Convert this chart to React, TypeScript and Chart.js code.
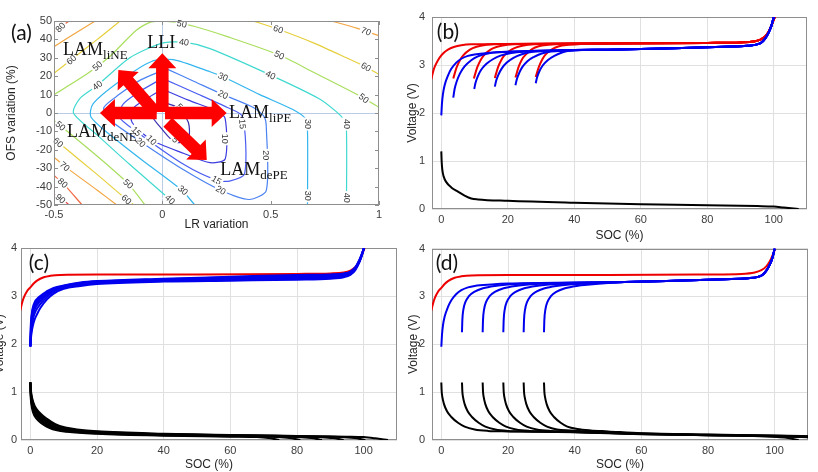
import React, { useEffect, useRef } from "react";
import { Chart, registerables } from "chart.js";

Chart.register(...registerables);

type P = [number, number];

// ================= Panel (a): contour map =================
const lrTicks = [-0.5, 0, 0.5, 1];
const ofsTicks = [-50, -40, -30, -20, -10, 0, 10, 20, 30, 40, 50];
const crossLR = [0];
const crossOFS = [0];
const contourLevels = [5, 10, 15, 20, 30, 40, 50, 60, 70, 80, 90];
const contourColors = ["#3a2fb0", "#3c3ce0", "#4a5cf2", "#4a82f2", "#33b5ee", "#3fd9cf", "#a9de5e", "#e6cf3c", "#f2a540", "#f06a45", "#e0363a"];

const lvl5: P[] = [[0, 6], [0.07, 3], [0.12, -5], [0.12, -14], [0.06, -16], [0.0, -9], [-0.05, -1], [-0.03, 4], [0, 6]];
const lvl10: P[] = [[0, 13], [0.12, 7], [0.25, 1], [0.29, -3], [0.29, -25], [0.22, -27], [0.1, -22], [-0.05, -14.7], [-0.14, -5], [-0.14, 2], [-0.07, 8], [0, 13]];
const lvl15: P[] = [[0, 18.8], [0.15, 11], [0.3, 3], [0.37, -2], [0.38, -33], [0.31, -37], [0.25, -36.5], [0.1, -28], [-0.12, -10], [-0.2, -2], [-0.18, 5], [-0.1, 12], [0, 18.8]];
const lvl20: P[] = [[0.02, 24], [0.15, 17], [0.28, 10], [0.42, 3], [0.47, -2], [0.48, -8], [0.48, -42], [0.4, -47], [0.27, -42], [0.1, -31], [-0.1, -15.6], [-0.25, -3], [-0.27, 3], [-0.2, 10], [-0.1, 18], [0.02, 24]];
const lvl30: P[] = [[0.15, -50], [0.09, -42], [-0.1, -25], [-0.25, -11], [-0.33, -2], [-0.32, 5], [-0.2, 17], [-0.05, 28], [0.05, 29], [0.22, 22.4], [0.28, 19.7], [0.45, 10], [0.6, 2], [0.66, -3], [0.67, -10], [0.67, -50]];
const lvl40: P[] = [[0.06, -50], [0.035, -47], [-0.15, -28], [-0.3, -12], [-0.41, 0], [-0.38, 8], [-0.3, 15], [-0.15, 30], [0, 38], [0.1, 38.5], [0.22, 35], [0.5, 20.6], [0.72, 8], [0.8, 1], [0.84, -4], [0.85, -10], [0.85, -50]];
const lvl50a: P[] = [[-0.5, -4], [-0.3, -23.5], [-0.157, -38.5], [-0.08, -50]];
const lvl50b: P[] = [[-0.5, 10], [-0.35, 21], [-0.24, 31], [-0.12, 45], [-0.05, 49.5], [0.05, 49.5], [0.15, 47], [0.3, 41.5], [0.54, 31.5], [0.7, 22], [0.85, 13], [0.93, 8], [1.0, 3]];
const lvl60a: P[] = [[-0.5, -14], [-0.3, -33.5], [-0.165, -47], [-0.13, -50]];
const lvl60b: P[] = [[-0.5, 21.6], [-0.42, 29], [-0.3, 40], [-0.195, 50]];
const lvl60c: P[] = [[0.42, 50], [0.535, 45.5], [0.7, 38], [0.85, 30], [0.94, 25], [1.0, 21]];
const lvl70a: P[] = [[-0.5, -24], [-0.45, -29], [-0.3, -42], [-0.21, -50]];
const lvl70b: P[] = [[-0.5, 36], [-0.4, 43.5], [-0.31, 50]];
const lvl70c: P[] = [[0.78, 50], [0.9, 46], [1.0, 42]];
const lvl80a: P[] = [[-0.5, -34], [-0.46, -38], [-0.37, -50]];
const lvl80b: P[] = [[-0.5, 44], [-0.46, 47.5], [-0.43, 50]];
const lvl90a: P[] = [[-0.5, -44], [-0.47, -46], [-0.43, -50]];

const contourSegments: { level: number; pts: P[] }[] = [
  { level: 5, pts: lvl5 }, { level: 10, pts: lvl10 }, { level: 15, pts: lvl15 }, { level: 20, pts: lvl20 },
  { level: 30, pts: lvl30 }, { level: 40, pts: lvl40 }, { level: 50, pts: lvl50a }, { level: 50, pts: lvl50b },
  { level: 60, pts: lvl60a }, { level: 60, pts: lvl60b }, { level: 60, pts: lvl60c },
  { level: 70, pts: lvl70a }, { level: 70, pts: lvl70b }, { level: 70, pts: lvl70c },
  { level: 80, pts: lvl80a }, { level: 80, pts: lvl80b }, { level: 90, pts: lvl90a },
];

const contourLabels: { t: string; x: number; y: number; a: number }[] = [
  { t: "80", x: -0.47, y: 46.5, a: -45 }, { t: "60", x: -0.42, y: 29, a: -40 }, { t: "50", x: -0.3, y: 25.5, a: -40 },
  { t: "40", x: -0.3, y: 15, a: -38 }, { t: "50", x: 0.09, y: 48.5, a: 12 }, { t: "40", x: 0.1, y: 38.5, a: 8 },
  { t: "60", x: 0.535, y: 45.5, a: 20 }, { t: "70", x: 0.94, y: 44.4, a: 22 }, { t: "50", x: 0.54, y: 31.5, a: 26 },
  { t: "40", x: 0.5, y: 20.6, a: 26 }, { t: "30", x: 0.28, y: 19.7, a: 24 }, { t: "20", x: 0.28, y: 10, a: 26 },
  { t: "60", x: 0.94, y: 25, a: 30 }, { t: "50", x: 0.93, y: 8, a: 38 }, { t: "30", x: 0.67, y: -6, a: 90 },
  { t: "40", x: 0.85, y: -6, a: 90 }, { t: "30", x: 0.67, y: -45, a: 90 }, { t: "40", x: 0.85, y: -46, a: 90 },
  { t: "20", x: 0.48, y: -23, a: 90 }, { t: "15", x: 0.37, y: -6, a: 85 }, { t: "10", x: 0.29, y: -14, a: 90 },
  { t: "15", x: 0.25, y: -36.5, a: 30 }, { t: "20", x: 0.27, y: -42, a: 30 }, { t: "30", x: 0.095, y: -42, a: 40 },
  { t: "40", x: 0.035, y: -47, a: 42 }, { t: "50", x: -0.157, y: -38.5, a: 42 }, { t: "60", x: -0.165, y: -47, a: 42 },
  { t: "50", x: -0.47, y: -7, a: 42 }, { t: "60", x: -0.48, y: -16, a: 42 }, { t: "70", x: -0.45, y: -29, a: 42 },
  { t: "80", x: -0.46, y: -38, a: 42 }, { t: "90", x: -0.47, y: -46.5, a: 42 }, { t: "15", x: -0.12, y: -10, a: 45 },
  { t: "20", x: -0.1, y: -16, a: 45 }, { t: "10", x: -0.05, y: -14.7, a: 45 }, { t: "5", x: 0.06, y: -14.5, a: 45 },
  { t: "5", x: 0.08, y: 3.4, a: 45 },
];

const arrowFrom: P[] = [[0, 0.5], [-0.03, 0], [-0.026, 0], [0.0125, 0], [0.025, -5]];
const arrowTo: P[] = [[0, 32.5], [-0.203, 23.4], [-0.288, 0], [0.297, 0], [0.205, -25.5]];

const annoMain = ["LAM", "LLI", "LAM", "LAM", "LAM"];
const annoSub = ["liNE", "", "liPE", "deNE", "dePE"];
const annoPos: P[] = [[-0.458, 31.5], [-0.07, 35.3], [0.308, -2.7], [-0.44, -13.3], [0.267, -33.7]];

// ================= Panels (b)-(d): voltage vs SOC =================
const socTicks = [0, 20, 40, 60, 80, 100];
const voltTicks = [0, 1, 2, 3, 4];

// ---- (b)
const bRedTail: P[] = [[50, 3.45], [80, 3.46], [90, 3.47], [94, 3.49], [96, 3.53], [97.5, 3.6], [98.5, 3.7], [99.3, 3.82], [100, 3.95], [100.3, 4.0]];
const bRed1: P[] = [[-3, 2.7], [-2.5, 2.85], [-2, 2.96], [-1, 3.1], [0, 3.2], [1, 3.27], [2, 3.32], [4, 3.38], [6, 3.41], [9, 3.43], [20, 3.44]];
const bRed2: P[] = [[3.6, 2.72], [4.6, 2.95], [5.6, 3.1], [6.6, 3.2], [8.6, 3.32], [10.6, 3.38], [13.6, 3.42], [18, 3.44]];
const bRed3: P[] = [[9.8, 2.72], [10.8, 2.95], [11.8, 3.1], [12.8, 3.2], [14.8, 3.32], [16.8, 3.38], [19.8, 3.42], [24, 3.44]];
const bRed4: P[] = [[16.1, 2.73], [17.1, 2.96], [18.1, 3.11], [19.1, 3.21], [21.1, 3.32], [23.1, 3.38], [26.1, 3.42], [30, 3.44]];
const bRed5: P[] = [[22.3, 2.74], [23.3, 2.97], [24.3, 3.12], [25.3, 3.21], [27.3, 3.33], [29.3, 3.39], [32.3, 3.42], [36, 3.44]];
const bRed6: P[] = [[28.4, 2.75], [29.4, 2.97], [30.4, 3.12], [31.4, 3.22], [33.4, 3.33], [35.4, 3.39], [38.4, 3.42], [42, 3.44]];
const bBlueTail: P[] = [[50, 3.32], [70, 3.35], [85, 3.38], [92, 3.4], [95, 3.43], [96.5, 3.48], [97.5, 3.56], [98.5, 3.68], [99.3, 3.82], [100, 4.0]];
const bBlue1: P[] = [[0, 1.95], [0.2, 2.2], [0.5, 2.4], [1, 2.58], [2, 2.78], [3, 2.92], [4.5, 3.05], [6, 3.13], [8, 3.19], [10, 3.22], [14, 3.25], [25, 3.28], [40, 3.31]];
const bBlue2: P[] = [[3.6, 2.32], [4, 2.5], [4.6, 2.65], [5.6, 2.82], [7, 2.97], [9, 3.1], [11, 3.18], [14, 3.24], [18, 3.27], [40, 3.31]];
const bBlue3: P[] = [[9.9, 2.5], [10.3, 2.63], [11, 2.77], [12, 2.9], [13.5, 3.02], [15.5, 3.12], [18, 3.2], [21, 3.25], [25, 3.28], [40, 3.31]];
const bBlue4: P[] = [[16.1, 2.55], [16.5, 2.67], [17.2, 2.8], [18.2, 2.93], [19.7, 3.05], [21.7, 3.15], [24, 3.22], [27, 3.27], [31, 3.29], [40, 3.31]];
const bBlue5: P[] = [[22.3, 2.58], [22.7, 2.7], [23.4, 2.83], [24.4, 2.96], [25.9, 3.08], [27.9, 3.17], [30.2, 3.24], [33, 3.28], [37, 3.3], [42, 3.31]];
const bBlue6: P[] = [[28.4, 2.62], [28.8, 2.74], [29.5, 2.87], [30.5, 2.99], [32, 3.1], [34, 3.19], [36.3, 3.26], [39, 3.3], [44, 3.315]];
const bBlack: P[] = [[0, 1.2], [0.1, 1.0], [0.3, 0.82], [0.7, 0.68], [1.5, 0.56], [3, 0.45], [5, 0.36], [7, 0.28], [9, 0.22], [11, 0.2], [20, 0.17], [40, 0.13], [60, 0.1], [80, 0.08], [95, 0.06], [100, 0.05], [103, 0.03], [107.5, 0.0]];

// ---- (c)
const cRed: P[] = [[-3, 2.7], [-2.5, 2.85], [-2, 2.96], [-1, 3.1], [0, 3.18], [1, 3.26], [2, 3.32], [4, 3.39], [6, 3.42], [9, 3.44], [20, 3.45], [50, 3.45], [80, 3.46], [90, 3.47], [94, 3.49], [96, 3.53], [97.5, 3.6], [98.5, 3.7], [99.3, 3.82], [100, 3.95], [100.3, 4.0]];
const cBlue1: P[] = [[0, 1.95], [0.3, 2.2], [1, 2.45], [2, 2.62], [3, 2.75], [5, 2.93], [7, 3.05], [10, 3.15], [15, 3.21], [20, 3.25], [40, 3.3], [60, 3.32], [80, 3.34], [90, 3.36], [94, 3.39], [96, 3.44], [97.5, 3.54], [98.7, 3.7], [99.5, 3.85], [100.1, 4.0]];
const cBlue2: P[] = [[0, 1.95], [0.25, 2.25], [0.8, 2.52], [1.7, 2.7], [3, 2.83], [5, 2.98], [7, 3.09], [10, 3.17], [15, 3.23], [20, 3.27], [40, 3.31], [60, 3.34], [80, 3.36], [90, 3.38], [94, 3.41], [96, 3.46], [97.5, 3.56], [98.7, 3.71], [99.5, 3.86], [100.1, 4.0]];
const cBlue3: P[] = [[0, 1.95], [0.2, 2.28], [0.7, 2.57], [1.5, 2.75], [3, 2.89], [5, 3.02], [7, 3.11], [10, 3.18], [15, 3.24], [20, 3.28], [40, 3.33], [60, 3.36], [80, 3.38], [90, 3.4], [94, 3.43], [96, 3.47], [97.5, 3.57], [98.7, 3.72], [99.5, 3.87], [100.1, 4.0]];
const cBlue4: P[] = [[0, 1.95], [0.2, 2.3], [0.6, 2.6], [1.3, 2.78], [3, 2.94], [5, 3.05], [7, 3.13], [10, 3.2], [15, 3.26], [20, 3.29], [40, 3.34], [60, 3.37], [80, 3.4], [90, 3.42], [94, 3.45], [96, 3.49], [97.5, 3.58], [98.7, 3.73], [99.5, 3.87], [100.1, 4.0]];
const cBlue5: P[] = [[0, 1.95], [0.15, 2.32], [0.5, 2.62], [1.1, 2.8], [3, 2.97], [5, 3.08], [7, 3.15], [10, 3.21], [15, 3.27], [20, 3.3], [40, 3.35], [60, 3.39], [80, 3.42], [90, 3.44], [94, 3.46], [96, 3.5], [97.5, 3.59], [98.7, 3.74], [99.5, 3.88], [100.1, 4.0]];
const cBlue6: P[] = [[0, 1.95], [0.12, 2.35], [0.45, 2.64], [1, 2.82], [3, 3.0], [5, 3.1], [7, 3.17], [10, 3.22], [15, 3.28], [20, 3.31], [40, 3.36], [60, 3.4], [80, 3.44], [90, 3.45], [94, 3.47], [96, 3.51], [97.5, 3.6], [98.7, 3.75], [99.5, 3.89], [100.1, 4.0]];
const cBlack1: P[] = [[0, 1.2], [0.08, 0.95], [0.3, 0.75], [0.8, 0.58], [1.8, 0.45], [3.5, 0.34], [5.5, 0.26], [8, 0.2], [11, 0.17], [20, 0.13], [40, 0.09], [60, 0.07], [68, 0.06], [71.5, 0.04], [74.7, 0.0]];
const cBlack2: P[] = [[0, 1.2], [0.1, 0.97], [0.35, 0.78], [0.9, 0.61], [2, 0.48], [3.8, 0.36], [6, 0.27], [8.5, 0.21], [11.5, 0.18], [20, 0.14], [40, 0.1], [60, 0.08], [74, 0.06], [77.8, 0.04], [81, 0.0]];
const cBlack3: P[] = [[0, 1.2], [0.12, 0.98], [0.4, 0.8], [1, 0.64], [2.2, 0.5], [4, 0.38], [6.3, 0.29], [9, 0.22], [12, 0.19], [20, 0.15], [40, 0.11], [60, 0.09], [80, 0.065], [84.3, 0.04], [87.5, 0.0]];
const cBlack4: P[] = [[0, 1.2], [0.14, 1.0], [0.45, 0.82], [1.1, 0.66], [2.4, 0.53], [4.3, 0.4], [6.6, 0.3], [9.5, 0.23], [12.5, 0.2], [20, 0.16], [40, 0.12], [60, 0.095], [80, 0.075], [87, 0.06], [90.8, 0.04], [94, 0.0]];
const cBlack5: P[] = [[0, 1.2], [0.16, 1.0], [0.5, 0.84], [1.2, 0.68], [2.6, 0.55], [4.6, 0.42], [7, 0.32], [10, 0.25], [13, 0.21], [20, 0.17], [40, 0.125], [60, 0.1], [80, 0.08], [93, 0.065], [97.3, 0.04], [100.5, 0.0]];
const cBlack6: P[] = [[0, 1.2], [0.2, 1.02], [0.6, 0.86], [1.3, 0.71], [2.8, 0.57], [5, 0.44], [7.5, 0.33], [10.5, 0.26], [14, 0.22], [20, 0.18], [40, 0.13], [60, 0.105], [80, 0.085], [95, 0.07], [100, 0.06], [103.5, 0.035], [107.3, 0.0]];

// ---- (d)
const dRed: P[] = [[-3, 2.7], [-2.5, 2.85], [-2, 2.96], [-1, 3.1], [0, 3.18], [1, 3.26], [2, 3.32], [4, 3.39], [6, 3.42], [9, 3.44], [20, 3.45], [50, 3.45], [80, 3.46], [90, 3.47], [94, 3.5], [96, 3.55], [97.5, 3.63], [98.5, 3.73], [99.3, 3.85], [100.2, 4.0]];
const dBlueTail: P[] = [[55, 3.3], [70, 3.33], [85, 3.36], [92, 3.38], [95, 3.41], [96.5, 3.46], [97.5, 3.54], [98.5, 3.66], [99.3, 3.8], [100, 4.0]];
const dBlue1: P[] = [[0, 1.95], [0.2, 2.2], [0.5, 2.4], [1, 2.58], [2, 2.78], [3, 2.92], [4.5, 3.05], [6, 3.13], [8, 3.19], [10, 3.22], [15, 3.25], [20, 3.27], [40, 3.29]];
const dBlue2: P[] = [[6.2, 2.25], [6.3, 2.5], [6.6, 2.72], [7.2, 2.88], [8.2, 3.0], [10, 3.1], [12.5, 3.17], [16, 3.22], [20, 3.25], [26, 3.27], [42, 3.29]];
const dBlue3: P[] = [[12.4, 2.25], [12.5, 2.5], [12.8, 2.72], [13.4, 2.88], [14.4, 3.0], [16.2, 3.1], [18.7, 3.17], [22.2, 3.22], [26.2, 3.25], [32, 3.27], [44, 3.29]];
const dBlue4: P[] = [[18.6, 2.25], [18.7, 2.5], [19, 2.72], [19.6, 2.88], [20.6, 3.0], [22.4, 3.1], [24.9, 3.17], [28.4, 3.22], [32.4, 3.25], [38, 3.27], [46, 3.29]];
const dBlue5: P[] = [[24.7, 2.25], [24.8, 2.5], [25.1, 2.72], [25.7, 2.88], [26.7, 3.0], [28.5, 3.1], [31, 3.17], [34.5, 3.22], [38.5, 3.25], [44, 3.27], [50, 3.29]];
const dBlue6: P[] = [[30.8, 2.25], [30.9, 2.5], [31.2, 2.72], [31.8, 2.88], [32.8, 3.0], [34.6, 3.1], [37.1, 3.17], [40.6, 3.22], [44.6, 3.25], [50, 3.28]];
const dBlack1: P[] = [[0, 1.2], [0.1, 1.02], [0.3, 0.9], [0.8, 0.75], [1.7, 0.6], [3, 0.48], [5, 0.36], [7, 0.28], [10, 0.22], [14, 0.19], [20, 0.18], [40, 0.16], [60, 0.12], [80, 0.1], [100, 0.07], [103, 0.05], [107.2, 0.0]];
const dBlack2: P[] = [[6.2, 1.2], [6.3, 1.02], [6.5, 0.9], [7, 0.75], [7.9, 0.6], [9.2, 0.48], [11.2, 0.36], [13.2, 0.28], [16.2, 0.22], [20, 0.19], [26, 0.18], [40, 0.165], [60, 0.125], [80, 0.1], [100, 0.075], [112, 0.055]];
const dBlack3: P[] = [[12.4, 1.2], [12.5, 1.02], [12.7, 0.9], [13.2, 0.75], [14.1, 0.6], [15.4, 0.48], [17.4, 0.36], [19.4, 0.28], [22.4, 0.22], [26.4, 0.19], [32, 0.18], [45, 0.155], [60, 0.125], [80, 0.1], [100, 0.08], [112, 0.06]];
const dBlack4: P[] = [[18.6, 1.2], [18.7, 1.02], [18.9, 0.9], [19.4, 0.75], [20.3, 0.6], [21.6, 0.48], [23.6, 0.36], [25.6, 0.28], [28.6, 0.22], [32.6, 0.19], [38, 0.18], [50, 0.15], [60, 0.13], [80, 0.105], [100, 0.085], [112, 0.065]];
const dBlack5: P[] = [[24.7, 1.2], [24.8, 1.02], [25, 0.9], [25.5, 0.75], [26.4, 0.6], [27.7, 0.48], [29.7, 0.36], [31.7, 0.28], [34.7, 0.22], [38.7, 0.2], [44, 0.18], [60, 0.135], [80, 0.11], [100, 0.09], [112, 0.07]];
const dBlack6: P[] = [[30.8, 1.2], [30.9, 1.02], [31.1, 0.9], [31.6, 0.75], [32.5, 0.6], [33.8, 0.48], [35.8, 0.36], [37.8, 0.28], [40.8, 0.23], [44.8, 0.2], [50, 0.18], [60, 0.14], [80, 0.115], [100, 0.095], [112, 0.075]];

// ================= styling =================
const FONT = "'Liberation Sans', Arial, Helvetica, sans-serif";
const tickFont = { family: FONT, size: 11 };
const titleFont = { family: FONT, size: 12 };
const tickColor = "#3c3c3c";
const titleColor = "#262626";
const boxColor = "#8e8e8e";
const gridColor = "#e0e0e0";
const RED = "#ee0000";
const BLUE = "#0000ee";
const BLACK = "#000000";

const toXY = (pts: P[]) => pts.map(([x, y]) => ({ x, y }));

function drawBox(chart: any) {
  const { ctx, chartArea: a } = chart;
  ctx.save();
  ctx.strokeStyle = boxColor;
  ctx.lineWidth = 1;
  ctx.strokeRect(Math.round(a.left) + 0.5, Math.round(a.top) + 0.5, Math.round(a.right - a.left) - 1, Math.round(a.bottom - a.top) - 1);
  ctx.restore();
}

function drawLetter(chart: any, letter: string, cx: number, cy: number) {
  const { ctx } = chart;
  ctx.save();
  ctx.font = "21px Lato, 'Open Sans', sans-serif";
  ctx.fillStyle = "#111";
  ctx.textAlign = "center";
  ctx.textBaseline = "middle";
  ctx.fillText(letter, cx, cy);
  ctx.restore();
}

function drawArrow(ctx: CanvasRenderingContext2D, x1: number, y1: number, x2: number, y2: number) {
  const shaft = 12.5, headW = 28, headL = 15;
  const ang = Math.atan2(y2 - y1, x2 - x1);
  const len = Math.hypot(x2 - x1, y2 - y1);
  ctx.save();
  ctx.translate(x1, y1);
  ctx.rotate(ang);
  ctx.beginPath();
  ctx.moveTo(0, -shaft / 2);
  ctx.lineTo(len - headL, -shaft / 2);
  ctx.lineTo(len - headL, -headW / 2);
  ctx.lineTo(len, 0);
  ctx.lineTo(len - headL, headW / 2);
  ctx.lineTo(len - headL, shaft / 2);
  ctx.lineTo(0, shaft / 2);
  ctx.closePath();
  ctx.fill();
  ctx.restore();
}

const panelAPlugin = {
  id: "panelA",
  beforeDatasetsDraw(chart: any) {
    const { ctx, chartArea: a, scales } = chart;
    ctx.save();
    ctx.strokeStyle = "#b9cbe6";
    ctx.lineWidth = 1;
    crossLR.forEach((v) => {
      const px = Math.round(scales.x.getPixelForValue(v)) + 0.5;
      ctx.beginPath(); ctx.moveTo(px, a.top); ctx.lineTo(px, a.bottom); ctx.stroke();
    });
    crossOFS.forEach((v) => {
      const py = Math.round(scales.y.getPixelForValue(v)) + 0.5;
      ctx.beginPath(); ctx.moveTo(a.left, py); ctx.lineTo(a.right, py); ctx.stroke();
    });
    ctx.restore();
  },
  afterDatasetsDraw(chart: any) {
    const { ctx, chartArea: a, scales } = chart;
    const sx = scales.x, sy = scales.y;
    // contour labels
    ctx.save();
    ctx.font = `9px ${FONT}`;
    contourLabels.forEach((l) => {
      const px = sx.getPixelForValue(l.x), py = sy.getPixelForValue(l.y);
      ctx.save();
      ctx.translate(px, py);
      ctx.rotate((l.a * Math.PI) / 180);
      const w = ctx.measureText(l.t).width;
      ctx.fillStyle = "#fff";
      ctx.fillRect(-w / 2 - 1.5, -4.5, w + 3, 9);
      ctx.fillStyle = "#3a3a3a";
      ctx.textAlign = "center";
      ctx.textBaseline = "middle";
      ctx.fillText(l.t, 0, 0.5);
      ctx.restore();
    });
    ctx.restore();
    // box + inward ticks
    drawBox(chart);
    ctx.save();
    ctx.strokeStyle = boxColor;
    ctx.lineWidth = 1;
    lrTicks.forEach((v) => {
      const px = Math.round(sx.getPixelForValue(v)) + 0.5;
      ctx.beginPath();
      ctx.moveTo(px, a.bottom); ctx.lineTo(px, a.bottom - 4);
      ctx.moveTo(px, a.top); ctx.lineTo(px, a.top + 4);
      ctx.stroke();
    });
    ofsTicks.forEach((v) => {
      const py = Math.round(sy.getPixelForValue(v)) + 0.5;
      ctx.beginPath();
      ctx.moveTo(a.left, py); ctx.lineTo(a.left + 4, py);
      ctx.moveTo(a.right, py); ctx.lineTo(a.right - 4, py);
      ctx.stroke();
    });
    ctx.restore();
    // arrows
    ctx.save();
    ctx.fillStyle = "#ff0000";
    arrowFrom.forEach((f, i) => {
      const t = arrowTo[i];
      drawArrow(ctx, sx.getPixelForValue(f[0]), sy.getPixelForValue(f[1]), sx.getPixelForValue(t[0]), sy.getPixelForValue(t[1]));
    });
    ctx.restore();
    // annotations
    ctx.save();
    ctx.fillStyle = "#111";
    ctx.textBaseline = "alphabetic";
    ctx.textAlign = "left";
    annoMain.forEach((m, i) => {
      const px = sx.getPixelForValue(annoPos[i][0]);
      const py = sy.getPixelForValue(annoPos[i][1]);
      ctx.font = "18px 'Liberation Serif', 'Times New Roman', serif";
      ctx.fillText(m, px, py);
      const w = ctx.measureText(m).width;
      if (annoSub[i]) {
        ctx.font = "13px 'Liberation Serif', 'Times New Roman', serif";
        ctx.fillText(annoSub[i], px + w, py + 4);
      }
    });
    ctx.restore();
    drawLetter(chart, "(a)", 21.5, 33.5);
  },
};

function makeSocPlugin(letter: string, cx: number, cy: number) {
  return {
    id: "soc" + letter,
    beforeDatasetsDraw(chart: any) {
      drawBox(chart);
    },
    afterDatasetsDraw(chart: any) {
      drawLetter(chart, letter, cx, cy);
    },
  };
}

function makeA() {
  return {
    type: "scatter",
    data: {
      datasets: contourSegments.map((s) => ({
        data: toXY(s.pts),
        borderColor: contourColors[contourLevels.indexOf(s.level)],
        borderWidth: 1.2,
        pointRadius: 0,
        showLine: true,
        tension: 0.25,
        fill: false,
      })),
    },
    options: {
      responsive: false,
      animation: false,
      events: [],
      layout: { padding: { left: 0, right: 21, top: 21, bottom: 0 } },
      plugins: { legend: { display: false }, tooltip: { enabled: false } },
      scales: {
        x: {
          type: "linear", min: -0.5, max: 1,
          afterBuildTicks: (s: any) => { s.ticks = lrTicks.map((v) => ({ value: v })); },
          afterFit: (s: any) => { s.height = 30; },
          grid: { display: false, drawTicks: false },
          border: { display: false },
          ticks: { padding: 3, color: tickColor, font: tickFont, autoSkip: false, maxRotation: 0, callback: (v: any) => String(v) },
          title: { display: true, text: "LR variation", color: titleColor, font: titleFont, padding: { top: 0, bottom: 3 } },
        },
        y: {
          type: "linear", min: -50, max: 50,
          afterBuildTicks: (s: any) => { s.ticks = ofsTicks.map((v) => ({ value: v })); },
          afterFit: (s: any) => { s.width = 54; },
          grid: { display: false, drawTicks: false },
          border: { display: false },
          ticks: { padding: 2, color: tickColor, font: tickFont, autoSkip: false, callback: (v: any) => String(v) },
          title: { display: true, text: "OFS variation (%)", color: titleColor, font: titleFont, padding: { top: 4, bottom: 0 } },
        },
      },
    },
    plugins: [panelAPlugin],
  };
}

type Curve = { pts: P[]; color: string };

function makeSoc(curves: Curve[], lay: { padRight: number; padTop: number; yWidth: number; xHeight: number; yTickPad: number; yTitlePad: number; xTitlePad: number }, letter: string, lx: number, ly: number) {
  return {
    type: "scatter",
    data: {
      datasets: curves.map((c) => ({
        data: toXY(c.pts),
        borderColor: c.color,
        borderWidth: 2,
        pointRadius: 0,
        showLine: true,
        cubicInterpolationMode: "monotone",
        fill: false,
      })),
    },
    options: {
      responsive: false,
      animation: false,
      events: [],
      layout: { padding: { left: 0, right: lay.padRight, top: lay.padTop, bottom: 0 } },
      plugins: { legend: { display: false }, tooltip: { enabled: false } },
      scales: {
        x: {
          type: "linear", min: -2.8, max: 110,
          afterBuildTicks: (s: any) => { s.ticks = socTicks.map((v) => ({ value: v })); },
          afterFit: (s: any) => { s.height = lay.xHeight; },
          grid: { color: gridColor, drawTicks: false },
          border: { display: false },
          ticks: { padding: 4, color: tickColor, font: tickFont, autoSkip: false, maxRotation: 0, callback: (v: any) => String(v) },
          title: { display: true, text: "SOC (%)", color: titleColor, font: titleFont, padding: { top: 0, bottom: lay.xTitlePad } },
        },
        y: {
          type: "linear", min: 0, max: 4,
          afterBuildTicks: (s: any) => { s.ticks = voltTicks.map((v) => ({ value: v })); },
          afterFit: (s: any) => { s.width = lay.yWidth; },
          grid: { color: gridColor, drawTicks: false },
          border: { display: false },
          ticks: { padding: lay.yTickPad, color: tickColor, font: tickFont, autoSkip: false, callback: (v: any) => String(v) },
          title: { display: true, text: "Voltage (V)", color: titleColor, font: titleFont, padding: { top: lay.yTitlePad, bottom: 0 } },
        },
      },
    },
    plugins: [makeSocPlugin(letter, lx, ly)],
  };
}

const curvesB: Curve[] = [
  ...[bBlue1, bBlue2, bBlue3, bBlue4, bBlue5, bBlue6].map((p) => ({ pts: [...p, ...bBlueTail], color: BLUE })),
  ...[bRed1, bRed2, bRed3, bRed4, bRed5, bRed6].map((p) => ({ pts: [...p, ...bRedTail], color: RED })),
  { pts: bBlack, color: BLACK },
];
const curvesC: Curve[] = [
  ...[cBlue1, cBlue2, cBlue3, cBlue4, cBlue5, cBlue6].map((p) => ({ pts: p, color: BLUE })),
  { pts: cRed, color: RED },
  ...[cBlack1, cBlack2, cBlack3, cBlack4, cBlack5, cBlack6].map((p) => ({ pts: p, color: BLACK })),
];
const curvesD: Curve[] = [
  ...[dBlue1, dBlue2, dBlue3, dBlue4, dBlue5, dBlue6].map((p) => ({ pts: [...p, ...dBlueTail], color: BLUE })),
  { pts: dRed, color: RED },
  ...[dBlack1, dBlack2, dBlack3, dBlack4, dBlack5, dBlack6].map((p) => ({ pts: p, color: BLACK })),
];

function ChartBox({ left, top, width, height, make }: { left: number; top: number; width: number; height: number; make: () => any }) {
  const ref = useRef<HTMLCanvasElement | null>(null);
  useEffect(() => {
    const chart = new Chart(ref.current as HTMLCanvasElement, make());
    return () => chart.destroy();
  }, []);
  return (
    <div style={{ position: "absolute", left, top, width, height }}>
      <canvas ref={ref} width={width} height={height} style={{ width, height, display: "block" }} />
    </div>
  );
}

export default function App() {
  return (
    <div style={{ position: "absolute", left: 0, top: 0, width: 818, height: 472, overflow: "hidden", background: "#fff" }}>
      <ChartBox left={0} top={0} width={400} height={235} make={makeA} />
      <ChartBox left={400} top={0} width={418} height={245}
        make={() => makeSoc(curvesB, { padRight: 11, padTop: 17, yWidth: 32, xHeight: 36, yTickPad: 7, yTitlePad: 5, xTitlePad: 2 }, "(b)", 48, 32)} />
      <ChartBox left={-8} top={235} width={418} height={237}
        make={() => makeSoc(curvesC, { padRight: 13, padTop: 13, yWidth: 29, xHeight: 32, yTickPad: 4, yTitlePad: 0, xTitlePad: 0 }, "(c)", 47, 28)} />
      <ChartBox left={400} top={235} width={418} height={237}
        make={() => makeSoc(curvesD, { padRight: 10, padTop: 13, yWidth: 32, xHeight: 32, yTickPad: 7, yTitlePad: 6, xTitlePad: 0 }, "(d)", 47, 28.5)} />
    </div>
  );
}
